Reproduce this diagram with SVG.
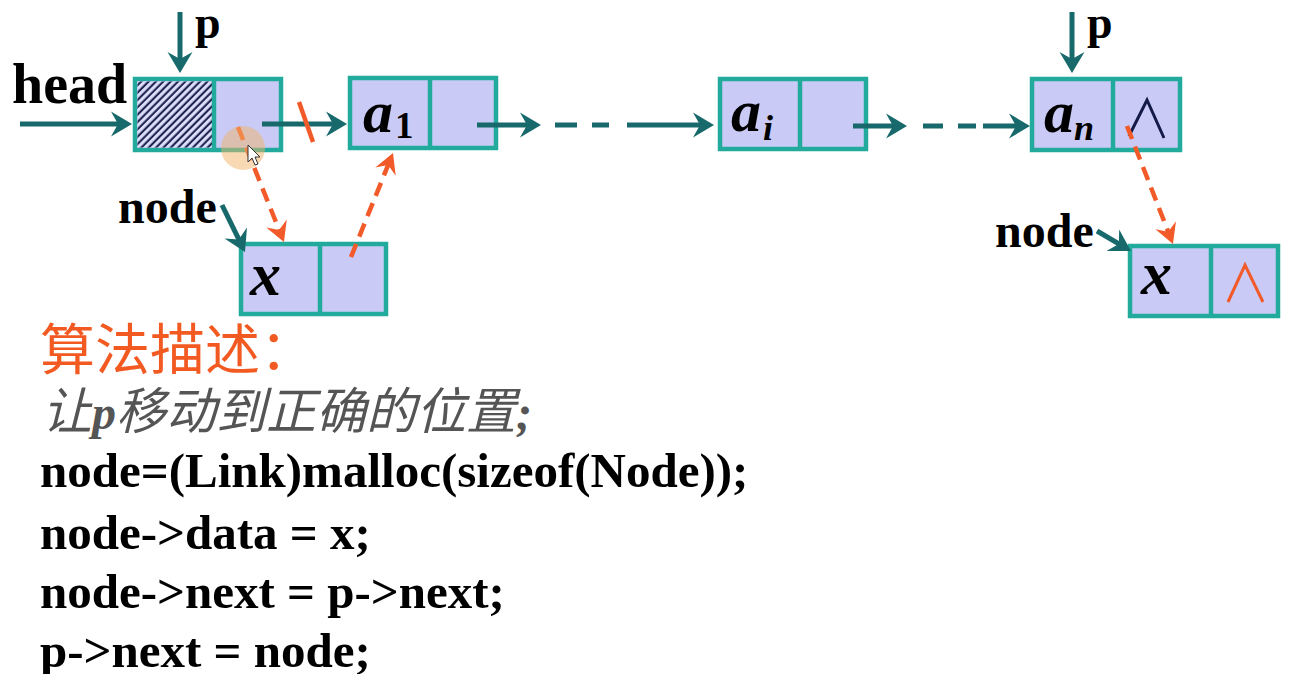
<svg xmlns="http://www.w3.org/2000/svg" width="1316" height="674" viewBox="0 0 1316 674">
  <defs>
    <style>
      .cell { fill: #c9cbf6; stroke: #22aa9c; stroke-width: 4.5; }
      .div { stroke: #22aa9c; stroke-width: 4.5; }
      .lnk { stroke: #17696b; stroke-width: 5; fill: none; }
      .ptr { stroke: #17696b; stroke-width: 5; fill: none; marker-end: url(#tealHead); }
      .chg { stroke: #f25a2a; stroke-width: 4.5; fill: none; stroke-dasharray: 14 8; marker-end: url(#orangeHead); }
      .lbl { font-family: "Liberation Serif", "Times New Roman", serif; font-weight: bold; fill: #000; }
      .val { font-family: "Liberation Serif", "Times New Roman", serif; font-weight: bold; font-style: italic; fill: #000; }
      .code { font-family: "Liberation Serif", "Times New Roman", serif; font-weight: bold; font-size: 49px; fill: #000; }
    </style>
    <marker id="tealHead" markerUnits="userSpaceOnUse" viewBox="-23 -14 25 28" markerWidth="25" markerHeight="28" refX="-12" refY="0" orient="auto">
      <path d="M0,0 L-21,-12.5 L-14,0 L-21,12.5 Z" fill="#17696b"/>
    </marker>
    <marker id="orangeHead" markerUnits="userSpaceOnUse" viewBox="-23 -14 25 28" markerWidth="25" markerHeight="28" refX="-12" refY="0" orient="auto">
      <path d="M0,0 L-20,-11 L-13,0 L-20,11 Z" fill="#f25a2a"/>
    </marker>
    <pattern id="hatch" width="5.2" height="5.2" patternUnits="userSpaceOnUse" patternTransform="rotate(45)">
      <rect width="5.2" height="5.2" fill="#dcdef9"/>
      <line x1="1.5" y1="0" x2="1.5" y2="5.2" stroke="#141a48" stroke-width="2"/>
    </pattern>
  </defs>

  <rect width="1316" height="674" fill="#ffffff"/>

  <!-- head node (hatched data field) -->
  <g id="node-head">
    <rect class="cell" x="135" y="79" width="146" height="71"/>
    <rect x="137.5" y="81.5" width="76" height="66" fill="url(#hatch)"/>
    <line class="div" x1="214" y1="79" x2="214" y2="150"/>
  </g>

  <g id="node-a1">
    <rect class="cell" x="350" y="78" width="146" height="70"/>
    <line class="div" x1="430" y1="78" x2="430" y2="148"/>
    <text class="val" x="363" y="132" font-size="60">a</text>
    <text class="lbl" x="395" y="138" font-size="37" font-weight="normal">1</text>
  </g>

  <g id="node-ai">
    <rect class="cell" x="720" y="79" width="146" height="70"/>
    <line class="div" x1="800" y1="79" x2="800" y2="149"/>
    <text class="val" x="731" y="131" font-size="60">a</text>
    <text class="val" x="763" y="140" font-size="36">i</text>
  </g>

  <g id="node-an">
    <rect class="cell" x="1032" y="79" width="148" height="71"/>
    <line class="div" x1="1113" y1="79" x2="1113" y2="150"/>
    <text class="val" x="1044" y="132" font-size="60">a</text>
    <text class="val" x="1074" y="140" font-size="36">n</text>
    <polyline points="1129,136 1147,100 1164,138" fill="none" stroke="#141a48" stroke-width="3"/>
  </g>

  <g id="node-x-left">
    <rect class="cell" x="241" y="244" width="145" height="70"/>
    <line class="div" x1="320" y1="244" x2="320" y2="314"/>
    <text class="val" x="250" y="295" font-size="62">x</text>
  </g>

  <g id="node-x-right">
    <rect class="cell" x="1130" y="246" width="148" height="70"/>
    <line class="div" x1="1211" y1="246" x2="1211" y2="316"/>
    <text class="val" x="1141" y="294" font-size="62">x</text>
    <polyline points="1228,302 1245,265 1263,302" fill="none" stroke="#f25a2a" stroke-width="3"/>
  </g>

  <!-- pointer labels -->
  <g id="labels">
    <text class="lbl" x="12" y="103" font-size="56">head</text>
    <text class="lbl" x="195" y="38" font-size="46">p</text>
    <text class="lbl" x="1087" y="38" font-size="46">p</text>
    <text class="lbl" x="118" y="223" font-size="48">node</text>
    <text class="lbl" x="995" y="247" font-size="48">node</text>
  </g>

  <!-- connectors -->
  <g id="connectors">
    <line class="ptr" x1="20" y1="124" x2="120" y2="124"/>
    <line class="ptr" x1="180" y1="12" x2="180" y2="61"/>
    <line class="ptr" x1="1072" y1="12" x2="1072" y2="61"/>
    <line class="ptr" x1="262" y1="124" x2="335" y2="124"/>
    <line class="ptr" x1="477" y1="125" x2="529" y2="125"/>
    <line class="lnk" x1="555" y1="125" x2="577" y2="125"/>
    <line class="lnk" x1="592" y1="125" x2="609" y2="125"/>
    <line class="ptr" x1="627" y1="125" x2="702" y2="125"/>
    <line class="ptr" x1="853" y1="126" x2="895" y2="126"/>
    <line class="lnk" x1="923" y1="126" x2="943" y2="126"/>
    <line class="lnk" x1="958" y1="126" x2="976" y2="126"/>
    <line class="ptr" x1="983" y1="126" x2="1018" y2="126"/>
    <line class="ptr" x1="222" y1="205" x2="239.7" y2="241.2"/>
    <line class="ptr" x1="1097" y1="231" x2="1120.6" y2="244.9"/>

    <!-- changed links -->
    <line x1="299" y1="102" x2="313" y2="142" stroke="#f25a2a" stroke-width="4.5"/>
    <line class="chg" x1="238" y1="127" x2="279.5" y2="230.9"/>
    <line class="chg" x1="351" y1="257" x2="388.5" y2="164.1"/>
    <line class="chg" x1="1127" y1="126" x2="1168.6" y2="232.8"/>
  </g>

  <!-- pointer highlight -->
  <g id="cursor">
    <circle cx="243" cy="148" r="22" fill="#f2b46a" opacity="0.5"/>
    <path d="M248,145 L248,162 L252,158 L255,165 L258,164 L255,157 L260,157 Z" fill="#ffffff" stroke="#333" stroke-width="1"/>
  </g>

  <!-- algorithm text -->
  <g id="algorithm">
    <text x="40" y="369" font-family="'Noto Sans CJK SC', sans-serif" font-size="55" fill="#f25a22">算法描述：</text>
    <text x="42" y="429" font-family="'Noto Sans CJK SC', sans-serif" font-size="50" font-style="italic" fill="#555555">让<tspan font-family="'Liberation Serif', serif" font-weight="bold" font-size="48">p</tspan>移动到正确的位置<tspan font-family="'Liberation Serif', serif" font-weight="bold" font-size="48">;</tspan></text>
    <text class="code" x="40" y="487">node=(Link)malloc(sizeof(Node));</text>
    <text class="code" x="40" y="549">node-&gt;data = x;</text>
    <text class="code" x="40" y="608">node-&gt;next = p-&gt;next;</text>
    <text class="code" x="40" y="667">p-&gt;next = node;</text>
  </g>
</svg>
